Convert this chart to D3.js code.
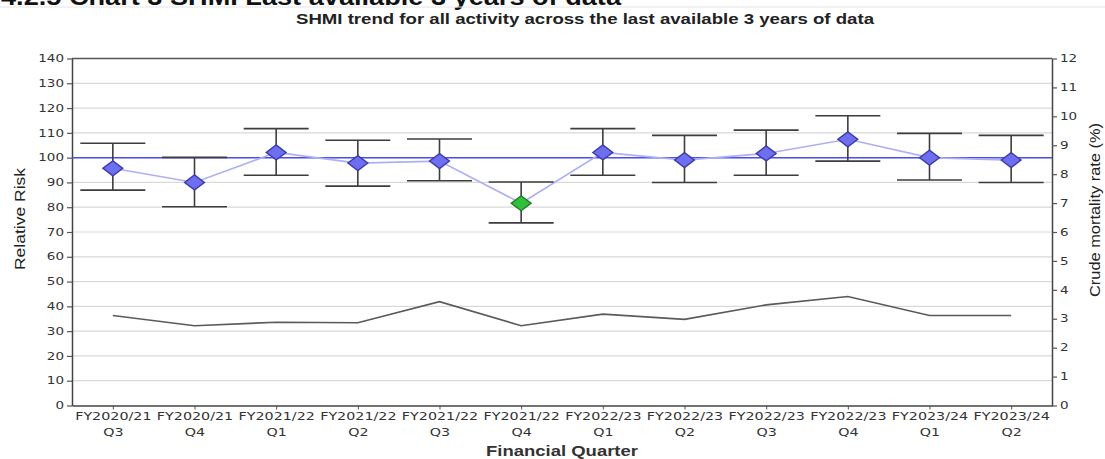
<!DOCTYPE html>
<html>
<head>
<meta charset="utf-8">
<script src="https://cdn.jsdelivr.net/npm/d3@7"></script>
<style>
  html, body { margin: 0; padding: 0; background: #fff; }
  svg { display: block; }
</style>
</head>
<body>
<svg id="chart" width="1105" height="459"></svg>
<script>
// Financial quarters shown on the x axis
const categories = [
  "FY2020/21 Q3", "FY2020/21 Q4", "FY2021/22 Q1", "FY2021/22 Q2",
  "FY2021/22 Q3", "FY2021/22 Q4", "FY2022/23 Q1", "FY2022/23 Q2",
  "FY2022/23 Q3", "FY2022/23 Q4", "FY2023/24 Q1", "FY2023/24 Q2"
];
// SHMI relative risk with its control limits
const shmi  = [95.7, 90.0, 102.1, 97.8, 98.6, 81.6, 102.1, 99.0, 101.7, 107.4, 100.0, 99.0];
const upper = [105.8, 100.1, 111.7, 107.0, 107.5, 90.2, 111.7, 109.0, 111.1, 116.9, 109.8, 109.0];
const lower = [86.9, 80.2, 92.9, 88.5, 90.7, 73.7, 92.9, 90.0, 92.9, 98.6, 91.0, 90.0];
// Crude mortality rate (%)
const crude = [3.11, 2.76, 2.88, 2.86, 3.59, 2.76, 3.16, 2.98, 3.48, 3.77, 3.11, 3.11];
// Axis ticks
const riskTicks = d3.range(0, 141, 10);
const crudeTicks = d3.range(0, 13, 1);
const expected = 100;

const svg = d3.select("#chart");
const plotLeft = 72, plotRight = 1052, plotTop = 58.5, plotBottom = 405.5;
const SX = 1.35; // horizontal stretch used for the small labels

const x = d3.scalePoint().domain(categories).range([plotLeft, plotRight]).padding(0.5);
const y = d3.scaleLinear().domain([0, 140]).range([plotBottom, plotTop]);
const y2 = d3.scaleLinear().domain([0, 12]).range([plotBottom, plotTop]);

// Heading above the chart (mostly scrolled out of view)
svg.append("text")
  .attr("x", 1).attr("y", 5)
  .attr("font-family", "Liberation Sans, Arial, sans-serif")
  .attr("font-weight", "bold").attr("font-size", 23)
  .attr("fill", "#111")
  .attr("textLength", 620).attr("lengthAdjust", "spacingAndGlyphs")
  .text("4.2.5 Chart 3 SHMI Last available 3 years of data");
svg.append("line")
  .attr("x1", 0).attr("x2", 1105).attr("y1", 7).attr("y2", 7)
  .attr("stroke", "#e4e4e4").attr("stroke-width", 1);

// Chart title
svg.append("text")
  .attr("x", (296 + 874) / 2).attr("y", 24)
  .attr("text-anchor", "middle")
  .attr("font-family", "Liberation Sans, Arial, sans-serif")
  .attr("font-weight", "bold").attr("font-size", 15.5)
  .attr("fill", "#222")
  .attr("textLength", 578).attr("lengthAdjust", "spacingAndGlyphs")
  .text("SHMI trend for all activity across the last available 3 years of data");

// Horizontal gridlines
svg.append("g")
  .selectAll("line")
  .data(riskTicks.filter(d => d > 0 && d < 140))
  .join("line")
  .attr("x1", plotLeft).attr("x2", plotRight)
  .attr("y1", d => y(d)).attr("y2", d => y(d))
  .attr("stroke", "#d9d9d9").attr("stroke-width", 1.2);

// Top frame line
svg.append("line")
  .attr("x1", plotLeft).attr("x2", plotRight).attr("y1", y(140)).attr("y2", y(140))
  .attr("stroke", "#555").attr("stroke-width", 1.3);

function styleTicks(g, anchorShift) {
  g.select(".domain").attr("stroke", "#444").attr("stroke-width", 1.5);
  g.selectAll(".tick line").attr("stroke", "#555").attr("stroke-width", 1.2);
  g.selectAll(".tick text")
    .attr("font-family", "DejaVu Sans, Verdana, sans-serif")
    .attr("font-size", 10)
    .attr("fill", "#333")
    .attr("transform", `scale(${SX},1)`)
    .attr("x", anchorShift / SX);
}

// Left axis: relative risk
svg.append("g")
  .attr("transform", `translate(${plotLeft},0)`)
  .call(d3.axisLeft(y).tickValues(riskTicks).tickSize(5).tickSizeOuter(0).tickPadding(3))
  .call(g => styleTicks(g, -8));

// Right axis: crude mortality rate
svg.append("g")
  .attr("transform", `translate(${plotRight},0)`)
  .call(d3.axisRight(y2).tickValues(crudeTicks).tickSize(5).tickSizeOuter(0).tickPadding(3))
  .call(g => styleTicks(g, 8));

// Bottom axis: financial quarters on two lines
const xAxis = svg.append("g")
  .attr("transform", `translate(0,${plotBottom})`)
  .call(d3.axisBottom(x).tickSize(4).tickSizeOuter(0));
xAxis.select(".domain").attr("stroke", "#444").attr("stroke-width", 1.5);
xAxis.selectAll(".tick line").attr("stroke", "#555");
xAxis.selectAll(".tick text").remove();
xAxis.selectAll(".tick").each(function (d) {
  const parts = d.split(" ");
  const t = d3.select(this).append("text")
    .attr("text-anchor", "middle")
    .attr("font-family", "DejaVu Sans, Verdana, sans-serif")
    .attr("font-size", 11)
    .attr("fill", "#333")
    .attr("transform", `scale(1.3,1)`);
  t.append("tspan").attr("x", 0).attr("y", 14.5).text(parts[0]);
  t.append("tspan").attr("x", 0).attr("y", 30.5).text(parts[1]);
});

// Axis titles
svg.append("text")
  .attr("x", (plotLeft + plotRight) / 2).attr("y", 456)
  .attr("text-anchor", "middle")
  .attr("font-family", "Liberation Sans, Arial, sans-serif")
  .attr("font-weight", "bold").attr("font-size", 14.5)
  .attr("fill", "#333")
  .attr("textLength", 152).attr("lengthAdjust", "spacingAndGlyphs")
  .text("Financial Quarter");

svg.append("text")
  .attr("transform", "translate(25,219) rotate(-90)")
  .attr("text-anchor", "middle")
  .attr("font-family", "Liberation Sans Narrow, Liberation Sans, Arial, sans-serif")
  .attr("font-size", 15)
  .attr("fill", "#222")
  .attr("textLength", 102).attr("lengthAdjust", "spacingAndGlyphs")
  .text("Relative Risk");

svg.append("text")
  .attr("transform", "translate(1100,210) rotate(-90)")
  .attr("text-anchor", "middle")
  .attr("font-family", "Liberation Sans Narrow, Liberation Sans, Arial, sans-serif")
  .attr("font-size", 15)
  .attr("fill", "#222")
  .attr("textLength", 174).attr("lengthAdjust", "spacingAndGlyphs")
  .text("Crude mortality rate (%)");

// Crude mortality line (right axis)
svg.append("path")
  .datum(crude)
  .attr("fill", "none")
  .attr("stroke", "#5a5a5a").attr("stroke-width", 1.6)
  .attr("d", d3.line().x((d, i) => x(categories[i])).y(d => y2(d)));

// Expected value reference line
svg.append("line")
  .attr("x1", plotLeft).attr("x2", plotRight)
  .attr("y1", y(expected)).attr("y2", y(expected))
  .attr("stroke", "#4d4df0").attr("stroke-width", 1.5);

// Line joining the SHMI points
svg.append("path")
  .datum(shmi)
  .attr("fill", "none")
  .attr("stroke", "#aeb0f4").attr("stroke-width", 1.6)
  .attr("d", d3.line().x((d, i) => x(categories[i])).y(d => y(d)));

// Control limit whiskers
const capHalf = 32.5;
const bars = svg.append("g")
  .selectAll("g")
  .data(categories)
  .join("g")
  .attr("stroke", "#3d3d3d").attr("stroke-width", 1.6);
bars.append("line")
  .attr("x1", d => x(d)).attr("x2", d => x(d))
  .attr("y1", (d, i) => y(upper[i])).attr("y2", (d, i) => y(lower[i]));
bars.append("line")
  .attr("x1", d => x(d) - capHalf).attr("x2", d => x(d) + capHalf)
  .attr("y1", (d, i) => y(upper[i])).attr("y2", (d, i) => y(upper[i]));
bars.append("line")
  .attr("x1", d => x(d) - capHalf).attr("x2", d => x(d) + capHalf)
  .attr("y1", (d, i) => y(lower[i])).attr("y2", (d, i) => y(lower[i]));

// SHMI markers: green when the upper limit sits below the expected value
const diamond = d3.symbol().type(d3.symbolSquare).size(112);
svg.append("g")
  .selectAll("path")
  .data(shmi)
  .join("path")
  .attr("d", diamond)
  .attr("transform", (d, i) => `translate(${x(categories[i])},${y(d)}) scale(1.33,1) rotate(45)`)
  .attr("fill", (d, i) => upper[i] < expected ? "#2fbf38" : "#6e6ef0")
  .attr("stroke", (d, i) => upper[i] < expected ? "#1c7a22" : "#3a3aa8")
  .attr("stroke-width", 1.2);
</script>
</body>
</html>
